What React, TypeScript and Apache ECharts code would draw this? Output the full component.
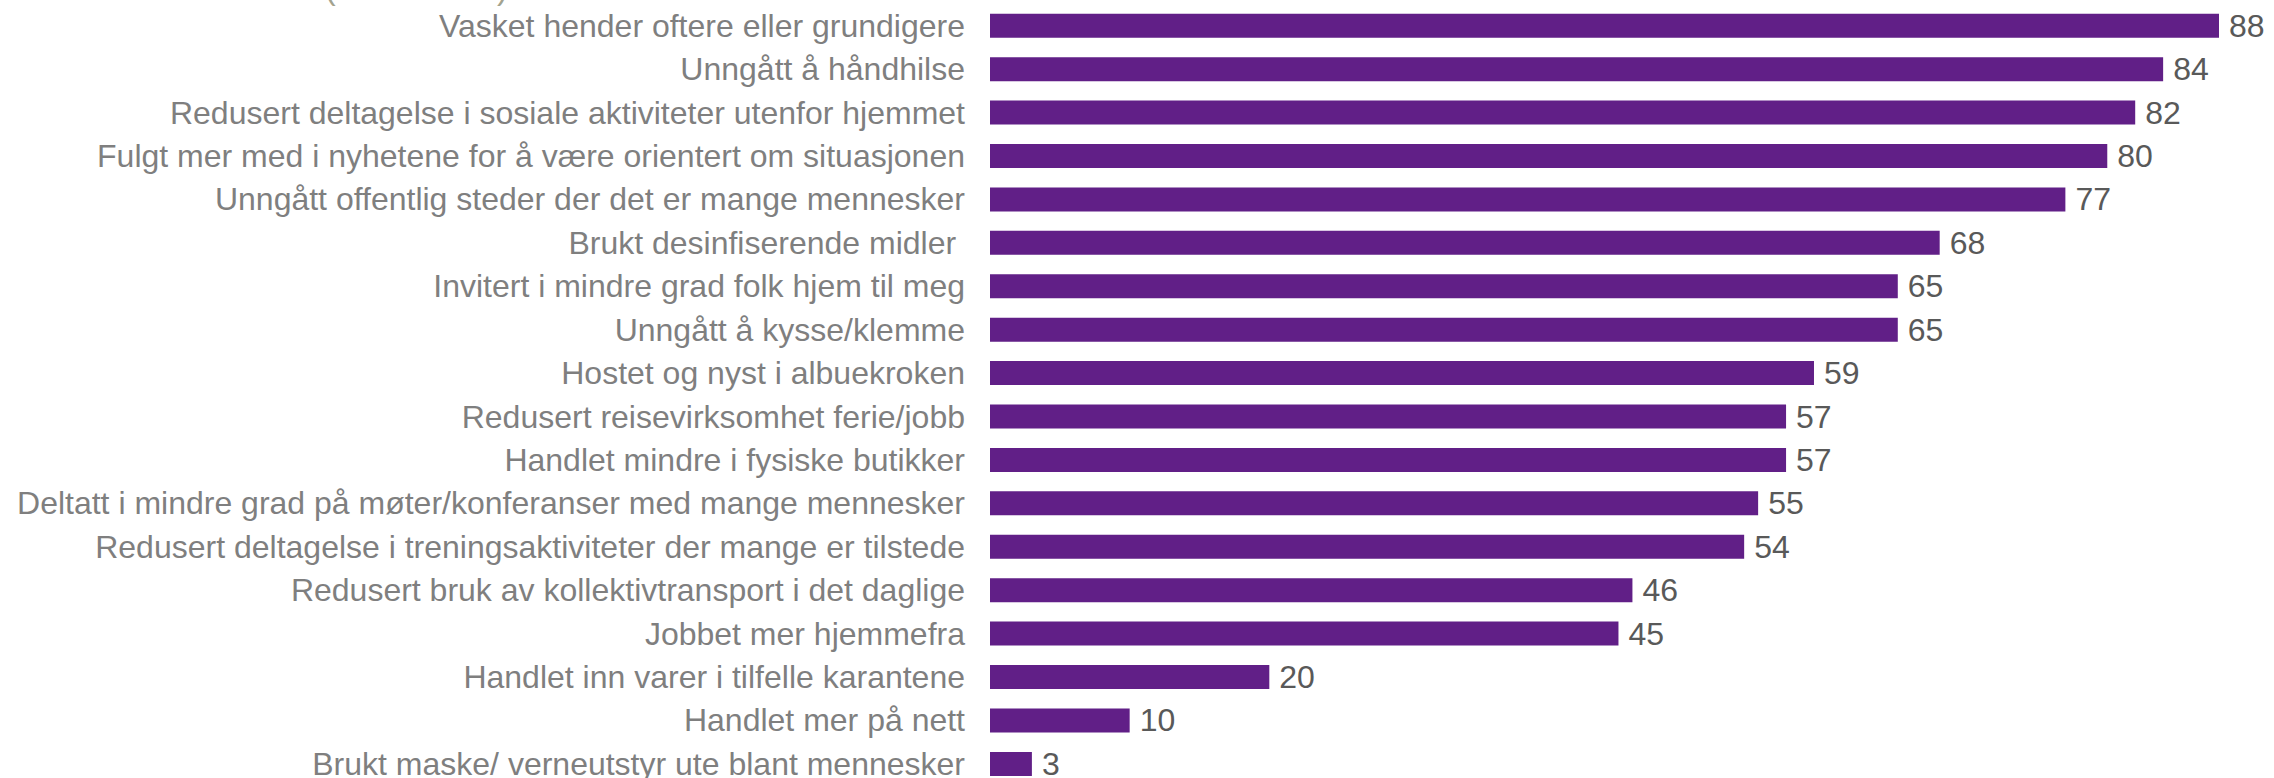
import React, { useEffect, useRef } from "react";
import * as echarts from "echarts";

const categories: string[] = [
  "Vasket hender oftere eller grundigere",
  "Unngått å håndhilse",
  "Redusert deltagelse i sosiale aktiviteter utenfor hjemmet",
  "Fulgt mer med i nyhetene for å være orientert om situasjonen",
  "Unngått offentlig steder der det er mange mennesker",
  "Brukt desinfiserende midler ",
  "Invitert i mindre grad folk hjem til meg",
  "Unngått å kysse/klemme",
  "Hostet og nyst i albuekroken",
  "Redusert reisevirksomhet ferie/jobb",
  "Handlet mindre i fysiske butikker",
  "Deltatt i mindre grad på møter/konferanser med mange mennesker",
  "Redusert deltagelse i treningsaktiviteter der mange er tilstede",
  "Redusert bruk av kollektivtransport i det daglige",
  "Jobbet mer hjemmefra",
  "Handlet inn varer i tilfelle karantene",
  "Handlet mer på nett",
  "Brukt maske/ verneutstyr ute blant mennesker",
];

const values: number[] = [88, 84, 82, 80, 77, 68, 65, 65, 59, 57, 57, 55, 54, 46, 45, 20, 10, 3];

const FONT = "'Liberation Sans', Arial, sans-serif";

export default function App() {
  const ref = useRef<HTMLDivElement>(null);
  useEffect(() => {
    if (!ref.current) return;
    const chart = echarts.init(ref.current, undefined, { renderer: "svg" });
    chart.setOption({
      animation: false,
      backgroundColor: "#ffffff",
      grid: { left: 990, top: 4, width: 1229, height: 781.6, containLabel: false },
      xAxis: {
        type: "value",
        min: 0,
        max: 88,
        show: false,
      },
      yAxis: {
        type: "category",
        data: categories,
        inverse: true,
        axisLine: { show: false },
        axisTick: { show: false },
        axisLabel: {
          margin: 25,
          fontSize: 32,
          fontFamily: FONT,
          color: "#7f7f7f",
        },
      },
      series: [
        {
          type: "bar",
          data: values,
          barWidth: 24,
          itemStyle: { color: "#611f87" },
          label: {
            show: true,
            position: "right",
            distance: 10,
            fontSize: 32,
            fontFamily: FONT,
            color: "#595959",
          },
        },
      ],
      graphic: [
        {
          type: "text",
          left: 325,
          top: -28,
          style: { text: "(", fontSize: 32, fontFamily: FONT, fill: "#a3a38f" },
        },
        {
          type: "text",
          left: 497,
          top: -28,
          style: { text: ")", fontSize: 32, fontFamily: FONT, fill: "#a3a38f" },
        },
      ],
    });
    return () => chart.dispose();
  }, []);
  return (
    <div
      ref={ref}
      style={{ position: "fixed", left: 0, top: 0, width: 2274, height: 800 }}
    />
  );
}
